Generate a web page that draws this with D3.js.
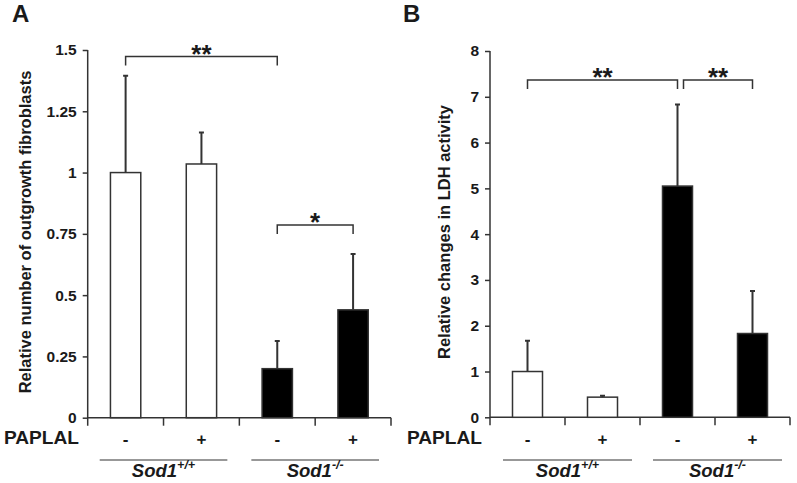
<!DOCTYPE html>
<html><head><meta charset="utf-8">
<script src="https://cdn.jsdelivr.net/npm/d3@7"></script>
<style>body{margin:0;background:#fff}svg{display:block}text{font-family:"Liberation Sans",Arial,sans-serif;font-weight:bold;fill:#1a1a1a}</style>
</head><body><svg id="c" width="797" height="483"></svg>
<script>
// ---- data ----
const categories = ["Sod1+/+ -", "Sod1+/+ +", "Sod1-/- -", "Sod1-/- +"];
const paplal = ["-", "+", "-", "+"];
const genotype = ["wt", "wt", "ko", "ko"];
const outgrowthValues = [1.0, 1.035, 0.20, 0.44];
const outgrowthErrors = [1.395, 1.163, 0.313, 0.668];
const outgrowthTicks = [0, 0.25, 0.5, 0.75, 1, 1.25, 1.5];
const outgrowthTickLabels = ["0", "0.25", "0.5", "0.75", "1", "1.25", "1.5"];
const ldhValues = [1.0, 0.44, 5.05, 1.83];
const ldhErrors = [1.67, 0.47, 6.83, 2.76];
const ldhTicks = [0, 1, 2, 3, 4, 5, 6, 7, 8];
const ldhTickLabels = ["0", "1", "2", "3", "4", "5", "6", "7", "8"];
const groups = [{name: "Sod1", sup: "+/+", members: [0, 1]}, {name: "Sod1", sup: "-/-", members: [2, 3]}];
const sigA = [{from: 0, to: 2, label: "**"}, {from: 2, to: 3, label: "*"}];
const sigB = [{from: 0, to: 2, label: "**"}, {from: 2, to: 3, label: "**"}];

const svg = d3.select("#c");
const LINE = "#333";

function panel(o) {
  const g = svg.append("g");
  const x = d3.scaleBand().domain(categories).range([o.x0, o.x1]).paddingInner(0.6).paddingOuter(0.3);
  const y = d3.scaleLinear().domain([0, o.max]).range([o.yb, o.yt]);
  const step = (o.x1 - o.x0) / categories.length;

  // y axis
  const ya = d3.axisLeft(y).tickValues(o.ticks).tickFormat((d, i) => o.tickLabels[i]).tickSize(5).tickPadding(6);
  const yg = g.append("g").attr("transform", `translate(${o.x0},0)`).call(ya);
  yg.select(".domain").attr("stroke", LINE).attr("stroke-width", 1.5).attr("d", `M0,${o.yt}V${o.yb + 8}`);
  yg.selectAll(".tick line").attr("stroke", LINE).attr("stroke-width", 1.5);
  yg.selectAll(".tick text").attr("font-size", 15.5).attr("fill", "#1a1a1a").attr("font-family", '"Liberation Sans",Arial,sans-serif').attr("font-weight", "bold");

  // x axis
  g.append("line").attr("x1", o.x0).attr("x2", o.x1).attr("y1", o.yb).attr("y2", o.yb).attr("stroke", LINE).attr("stroke-width", 1.5);
  g.selectAll(".xt").data(d3.range(1, categories.length + 1)).enter().append("line")
    .attr("x1", i => o.x0 + i * step).attr("x2", i => o.x0 + i * step)
    .attr("y1", o.yb).attr("y2", o.yb + 8).attr("stroke", LINE).attr("stroke-width", 1.5);

  // bars
  g.selectAll(".bar").data(categories).enter().append("rect")
    .attr("x", d => x(d)).attr("width", x.bandwidth())
    .attr("y", (d, i) => y(o.values[i])).attr("height", (d, i) => y(0) - y(o.values[i]))
    .attr("fill", (d, i) => genotype[i] === "wt" ? "#fff" : "#000")
    .attr("stroke", LINE).attr("stroke-width", 1.5);

  // error bars
  const cx = d => x(d) + x.bandwidth() / 2;
  g.selectAll(".err").data(categories).enter().append("path")
    .attr("d", (d, i) => `M${cx(d)},${y(o.values[i])}V${y(o.errors[i])}M${cx(d) - 2.5},${y(o.errors[i])}H${cx(d) + 2.5}`)
    .attr("stroke", LINE).attr("stroke-width", 2).attr("fill", "none");

  // significance brackets
  o.sig.forEach((s, k) => {
    const by = o.by[k];
    const xa = cx(categories[s.from]) + (k > 0 && o.shift ? o.shift : 0);
    const xb = cx(categories[s.to]);
    g.append("path").attr("d", `M${xa},${by + 9}V${by}H${xb}V${by + 9}`)
      .attr("stroke", LINE).attr("stroke-width", 1.5).attr("fill", "none");
    g.append("text").attr("x", (xa + xb) / 2).attr("y", by + 6).attr("text-anchor", "middle")
      .attr("font-size", 26).text(s.label);
  });

  // PAPLAL row
  g.append("text").attr("x", o.px).attr("y", 444).attr("font-size", 18)
    .attr("textLength", 75).attr("lengthAdjust", "spacingAndGlyphs").text("PAPLAL");
  g.selectAll(".pm").data(categories).enter().append("text")
    .attr("x", d => cx(d)).attr("y", 445).attr("text-anchor", "middle").attr("font-size", 17)
    .text((d, i) => paplal[i]);

  // group lines + labels
  groups.forEach(gr => {
    const a = o.x0 + gr.members[0] * step + o.gl[0];
    const b = o.x0 + (gr.members[1] + 1) * step - o.gl[1];
    g.append("line").attr("x1", a).attr("x2", b).attr("y1", 460).attr("y2", 460).attr("stroke", LINE).attr("stroke-width", 1.2);
    const t = g.append("text").attr("x", (a + b) / 2).attr("y", 477).attr("text-anchor", "middle")
      .attr("font-size", 18.5).attr("font-style", "italic");
    t.append("tspan").text(gr.name);
    t.append("tspan").attr("font-size", 12.5).attr("dy", -8).text(gr.sup);
  });

  // y label
  g.append("text").attr("transform", `translate(${o.lx},${o.ly}) rotate(-90)`).attr("text-anchor", "middle")
    .attr("font-size", 16.5).text(o.ylabel);

  // panel letter
  g.append("text").attr("x", o.lettx).attr("y", 22).attr("font-size", 24).text(o.letter);
}

panel({x0: 87.7, x1: 391, yb: 417.7, yt: 50, max: 1.5, ticks: outgrowthTicks, tickLabels: outgrowthTickLabels,
  values: outgrowthValues, errors: outgrowthErrors, sig: sigA, by: [56.5, 225], px: 4, gl: [12, 12],
  lx: 31, ly: 232, ylabel: "Relative number of outgrowth fibroblasts", lettx: 12, letter: "A"});
panel({x0: 490, x1: 790, yb: 417.3, yt: 51, max: 8, ticks: ldhTicks, tickLabels: ldhTickLabels,
  values: ldhValues, errors: ldhErrors, sig: sigB, by: [80, 80], shift: 6, px: 407, gl: [13, 8],
  lx: 450, ly: 232, ylabel: "Relative changes in LDH activity", lettx: 403, letter: "B"});
</script></body></html>
